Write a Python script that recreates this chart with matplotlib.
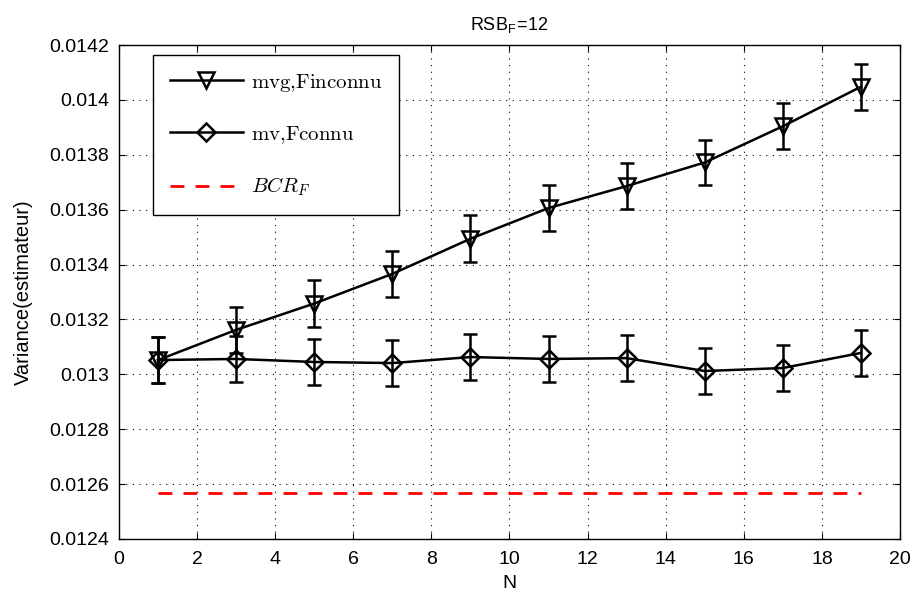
import matplotlib
matplotlib.use('Agg')
import matplotlib.pyplot as plt
from matplotlib.lines import Line2D

# donnees
N = [1, 3, 5, 7, 9, 11, 13, 15, 17, 19]
var_mvg = [0.013052, 0.013162, 0.013258, 0.013366, 0.013494, 0.013606, 0.013686, 0.013772, 0.013904, 0.014048]
err_mvg = [0.000083, 0.000085, 0.000085, 0.000083, 0.000085, 0.000083, 0.000085, 0.000083, 0.000083, 0.000083]
var_mv = [0.013052, 0.013056, 0.013045, 0.013041, 0.013063, 0.013056, 0.013059, 0.013012, 0.013023, 0.013078]
err_mv = [0.000083, 0.000085, 0.000085, 0.000083, 0.000083, 0.000083, 0.000085, 0.000083, 0.000083, 0.000083]
bcr = 0.012568
yticks = [0.0124, 0.0126, 0.0128, 0.013, 0.0132, 0.0134, 0.0136, 0.0138, 0.014, 0.0142]

plt.rcParams['mathtext.fontset'] = 'cm'
plt.rcParams['font.family'] = ['Liberation Sans', 'DejaVu Sans']

fig = plt.figure(figsize=(9.15, 6.06), dpi=100)
ax = fig.add_axes([0.130, 0.1106, 0.8536, 0.8151])

kw = dict(color='black', lw=1.8, mfc='none', mew=1.8, capsize=5, capthick=1.8, elinewidth=1.8)
ax.errorbar(N, var_mvg, yerr=err_mvg, marker='v', ms=12, **kw)
ax.errorbar(N, var_mv, yerr=err_mv, marker='D', ms=9, **kw)
ax.plot([N[0], N[-1]], [bcr, bcr], color='red', lw=2, ls=(0, (5, 4)))

ax.set_xlim(0, 20)
ax.set_ylim(0.0124, 0.0142)
ax.set_xticks(range(0, 21, 2))
ax.set_yticks(yticks)
ax.set_yticklabels(['%g' % v for v in yticks])
ax.tick_params(direction='in', top=True, right=True, labelsize=14, length=4, width=0.8)
ax.tick_params(axis='x', pad=9)
ax.tick_params(axis='y', pad=7)
ax.grid(True, ls=(0, (1, 5)), color='black', lw=0.8)
for s in ax.spines.values():
    s.set_linewidth(1)

ax.set_xlabel('N', fontsize=14, labelpad=5)
ax.set_ylabel('Variance(estimateur)', fontsize=14.5, labelpad=12)
ax.set_title(r'RSB$_\mathregular{F}$=12', fontsize=13, pad=10)

handles = [
    Line2D([], [], color='black', lw=1.8, marker='v', ms=12, mfc='none', mew=1.8),
    Line2D([], [], color='black', lw=1.8, marker='D', ms=9, mfc='none', mew=1.8),
    Line2D([], [], color='red', lw=2, ls=(0, (5, 4))),
]
labels = [r'$\mathrm{mvg{,}Finconnu}$', r'$\mathrm{mv{,}Fconnu}$', r'$BCR_F$']
leg = ax.legend(handles, labels, loc='upper left', bbox_to_anchor=(0.0435, 0.98), borderaxespad=0,
                fontsize=15, fancybox=False, edgecolor='black', framealpha=1,
                handlelength=3.5, handletextpad=0.4, labelspacing=1.45, borderpad=0.8)
leg.get_frame().set_linewidth(1)

fig.savefig('out.png', dpi=100)
